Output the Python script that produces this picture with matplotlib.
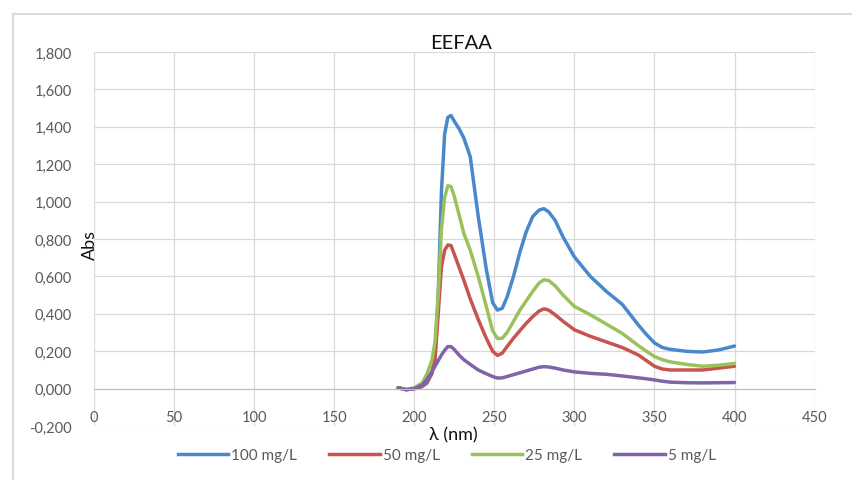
import matplotlib
matplotlib.use("Agg")
import matplotlib.pyplot as plt
from matplotlib.lines import Line2D
from matplotlib.ticker import FuncFormatter, MultipleLocator

plt.rcParams['font.family'] = ['Lato', 'DejaVu Sans']

# UV-Vis spectra of EEFAA at four concentrations
wavelength = [190, 195, 200, 205, 208, 211, 213, 215, 217, 219,
              221, 223, 225, 228, 231, 235, 240, 245, 249, 252,
              255, 258, 262, 266, 270, 274, 278, 281, 284, 288,
              293, 300, 310, 320, 330, 340, 345, 350, 355, 360,
              370, 380, 390, 400]

abs_100 = [0.005, -0.005, 0.000, 0.012, 0.030, 0.080, 0.180, 0.500, 1.050, 1.360,
           1.450, 1.460, 1.430, 1.390, 1.340, 1.240, 0.920, 0.640, 0.460, 0.420,
           0.430, 0.490, 0.600, 0.730, 0.840, 0.920, 0.955, 0.962, 0.945, 0.900,
           0.810, 0.705, 0.600, 0.520, 0.450, 0.340, 0.290, 0.245, 0.220, 0.210,
           0.200, 0.196, 0.207, 0.228]

abs_50 = [0.005, -0.005, 0.000, 0.012, 0.040, 0.080, 0.150, 0.400, 0.650, 0.740,
          0.768, 0.765, 0.720, 0.650, 0.580, 0.480, 0.370, 0.270, 0.200, 0.178,
          0.190, 0.225, 0.270, 0.310, 0.350, 0.385, 0.415, 0.427, 0.420, 0.395,
          0.360, 0.315, 0.280, 0.250, 0.220, 0.180, 0.150, 0.120, 0.105, 0.100,
          0.100, 0.100, 0.110, 0.120]

abs_25 = [0.005, -0.005, 0.005, 0.030, 0.080, 0.150, 0.250, 0.500, 0.850, 1.020,
          1.085, 1.080, 1.030, 0.930, 0.830, 0.740, 0.600, 0.440, 0.310, 0.268,
          0.270, 0.300, 0.360, 0.420, 0.470, 0.520, 0.565, 0.582, 0.578, 0.550,
          0.500, 0.440, 0.395, 0.345, 0.295, 0.230, 0.200, 0.172, 0.155, 0.143,
          0.130, 0.120, 0.125, 0.135]

abs_5 = [0.005, -0.005, 0.000, 0.020, 0.050, 0.090, 0.120, 0.150, 0.180, 0.205,
         0.225, 0.225, 0.210, 0.180, 0.155, 0.130, 0.100, 0.080, 0.065, 0.057,
         0.058, 0.065, 0.075, 0.085, 0.095, 0.105, 0.115, 0.118, 0.116, 0.110,
         0.100, 0.090, 0.082, 0.077, 0.068, 0.058, 0.053, 0.047, 0.040, 0.035,
         0.032, 0.031, 0.032, 0.033]

labels = ["100 mg/L", "50 mg/L", "25 mg/L", "5 mg/L"]
colors = ["#4a88cc", "#c85450", "#9bc25a", "#8064a8"]

fig = plt.figure(figsize=(8.53, 4.81), dpi=100)
ax = fig.add_axes([0.110, 0.112, 0.845, 0.778])

for y, lab, c in zip([abs_100, abs_50, abs_25, abs_5], labels, colors):
    ax.plot(wavelength, y, color=c, lw=2.5, label=lab,
            solid_capstyle='round', solid_joinstyle='round')

ax.set_xlim(0, 450)
ax.set_ylim(-0.2, 1.8)
ax.xaxis.set_major_locator(MultipleLocator(50))
ax.yaxis.set_major_locator(MultipleLocator(0.2))
ax.yaxis.set_major_formatter(FuncFormatter(lambda v, p: f"{v:.3f}".replace('.', ',')))

ax.grid(True, color="#d9d9d9", lw=0.9)
ax.set_axisbelow(True)
for s in ['top', 'right', 'left']:
    ax.spines[s].set_visible(False)
ax.spines['bottom'].set_position(('data', 0))
ax.spines['bottom'].set_color("#bfbfbf")
ax.tick_params(length=0, labelsize=10.5, labelcolor="#595959")
ax.tick_params(axis='x', pad=15)
ax.tick_params(axis='y', pad=16)

fig.text(0.541, 0.910, "EEFAA", ha='center', va='center', fontsize=14.5, color="#111111")
fig.text(0.105, 0.491, "Abs", rotation=90, ha='center', va='center', fontsize=13, color="#111111")
fig.text(0.531, 0.094, "λ (nm)", ha='center', va='center', fontsize=13, color="#111111")

handles = [Line2D([0], [0], color=c, lw=2.5) for c in colors]
leg = fig.legend(handles, labels, loc='center', bbox_to_anchor=(0.524, 0.052), ncol=4,
                 frameon=False, fontsize=11, handlelength=3.3, handletextpad=0.2,
                 columnspacing=2.1)
for t in leg.get_texts():
    t.set_color("#595959")

# light chart-area border (top and left)
fig.add_artist(Line2D([0.015, 1.0], [0.969, 0.969], color="#d9d9d9", lw=1.5))
fig.add_artist(Line2D([0.015, 0.015], [0.0, 0.969], color="#d9d9d9", lw=1.5))

fig.savefig("out.png", dpi=100)
